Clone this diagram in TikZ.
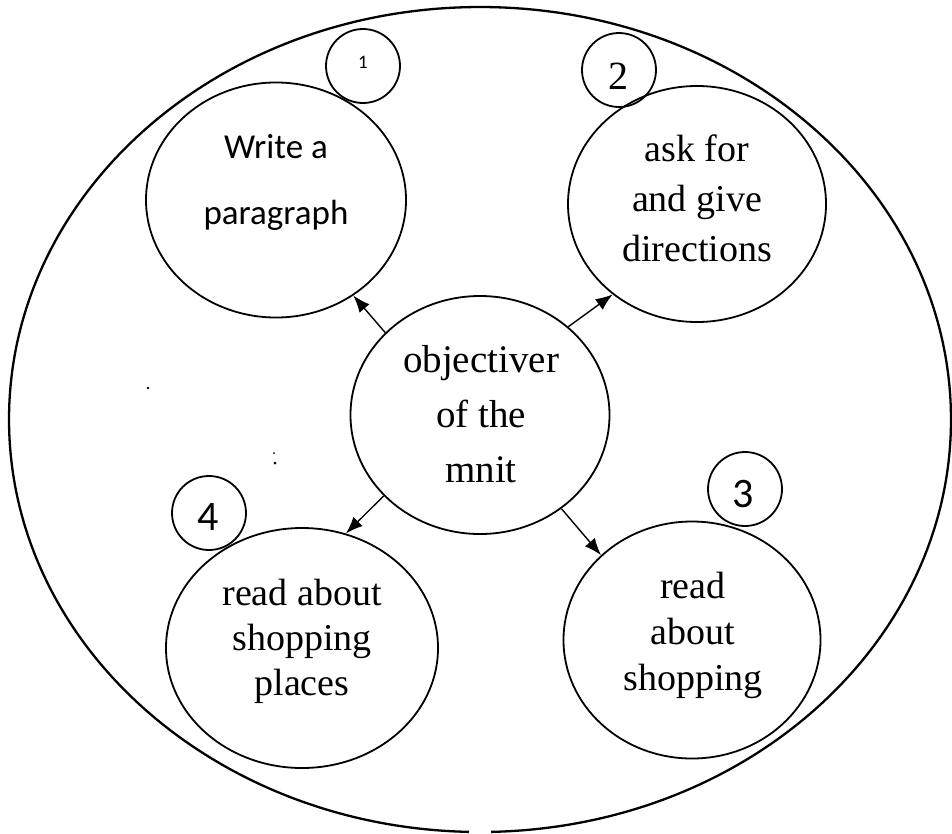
\documentclass[tikz,border=0pt]{standalone}
\usepackage{fontspec}
\setmainfont{Liberation Serif}
\newfontfamily\calibfont{Carlito}
\usetikzlibrary{shapes.geometric,arrows.meta}
\begin{document}
\begin{tikzpicture}[x=1pt,y=-1pt,
  bubble/.style={draw,ellipse,line width=1.8pt,inner sep=0pt},
  badge/.style={draw,circle,line width=1.8pt,inner sep=0pt,minimum size=74pt},
  txt/.style={align=center,inner sep=0pt},
  conn/.style={line width=1.4pt,-{Latex[length=17pt,width=13pt]}},
  speck/.style={fill=black,draw=none}]
\useasboundingbox (0,0) rectangle (952,833);

% outer frame, with a small break at the bottom
\coordinate (o) at (480,419.5);
\draw[line width=2.3pt] ([shift={(-88.66:471pt and 412.5pt)}]o)
  arc[start angle=-88.66, end angle=268.66, x radius=471pt, y radius=412.5pt];

% bubbles
\node[bubble,minimum width=260pt,minimum height=235pt] (tl) at (276,200) {};
\node[bubble,minimum width=258pt,minimum height=236pt] (tr) at (697,204) {};
\node[bubble,minimum width=259pt,minimum height=238pt] (c)  at (480,415) {};
\node[bubble,minimum width=272pt,minimum height=240pt] (bl) at (302,648) {};
\node[bubble,minimum width=257pt,minimum height=237pt] (br) at (692,640) {};

% bubble texts
\node[txt,font=\calibfont\fontsize{35}{66}\selectfont] (tltext) at (276,182) {Write a\\paragraph};
\node[txt,font=\fontsize{38}{50}\selectfont] (trtext) at (697,198) {ask for\\and give\\directions};
\node[txt,font=\fontsize{39}{55}\selectfont] (ctext) at (481,414) {objectiver\\of the\\mnit};
\node[txt,font=\fontsize{38}{45}\selectfont] (bltext) at (302,641) {read about\\shopping\\places};
\node[txt,font=\fontsize{38}{46}\selectfont] (brtext) at (693,635) {read\\about\\shopping};

% numbered badges
\node[badge] (n1) at (363,66) {};
\node[badge] (n2) at (619,70) {};
\node[badge] (n3) at (745,489) {};
\node[badge] (n4) at (209,513) {};
\node[txt,font=\calibfont\fontsize{19}{22}\selectfont] (n1text) at (363,62) {1};
\node[txt,font=\fontsize{40}{44}\selectfont] (n2text) at (618,76) {2};
\node[txt,font=\calibfont\fontsize{42}{46}\selectfont] (n3text) at (743,494) {3};
\node[txt,font=\calibfont\fontsize{42}{46}\selectfont] (n4text) at (208,517) {4};

% connectors
\draw[conn] (c.139) -- (tl.-51);
\draw[conn] (c.45)  -- (tr.227);
\draw[conn] (c.220) -- (bl.69);
\draw[conn] (c.-49) -- (br.137);

% stray specks
\fill[speck] (148,388) circle[radius=1.3pt];
\fill[speck] (274,453) circle[radius=1pt];
\fill[speck] (275,463) circle[radius=1.5pt];
\end{tikzpicture}
\end{document}
